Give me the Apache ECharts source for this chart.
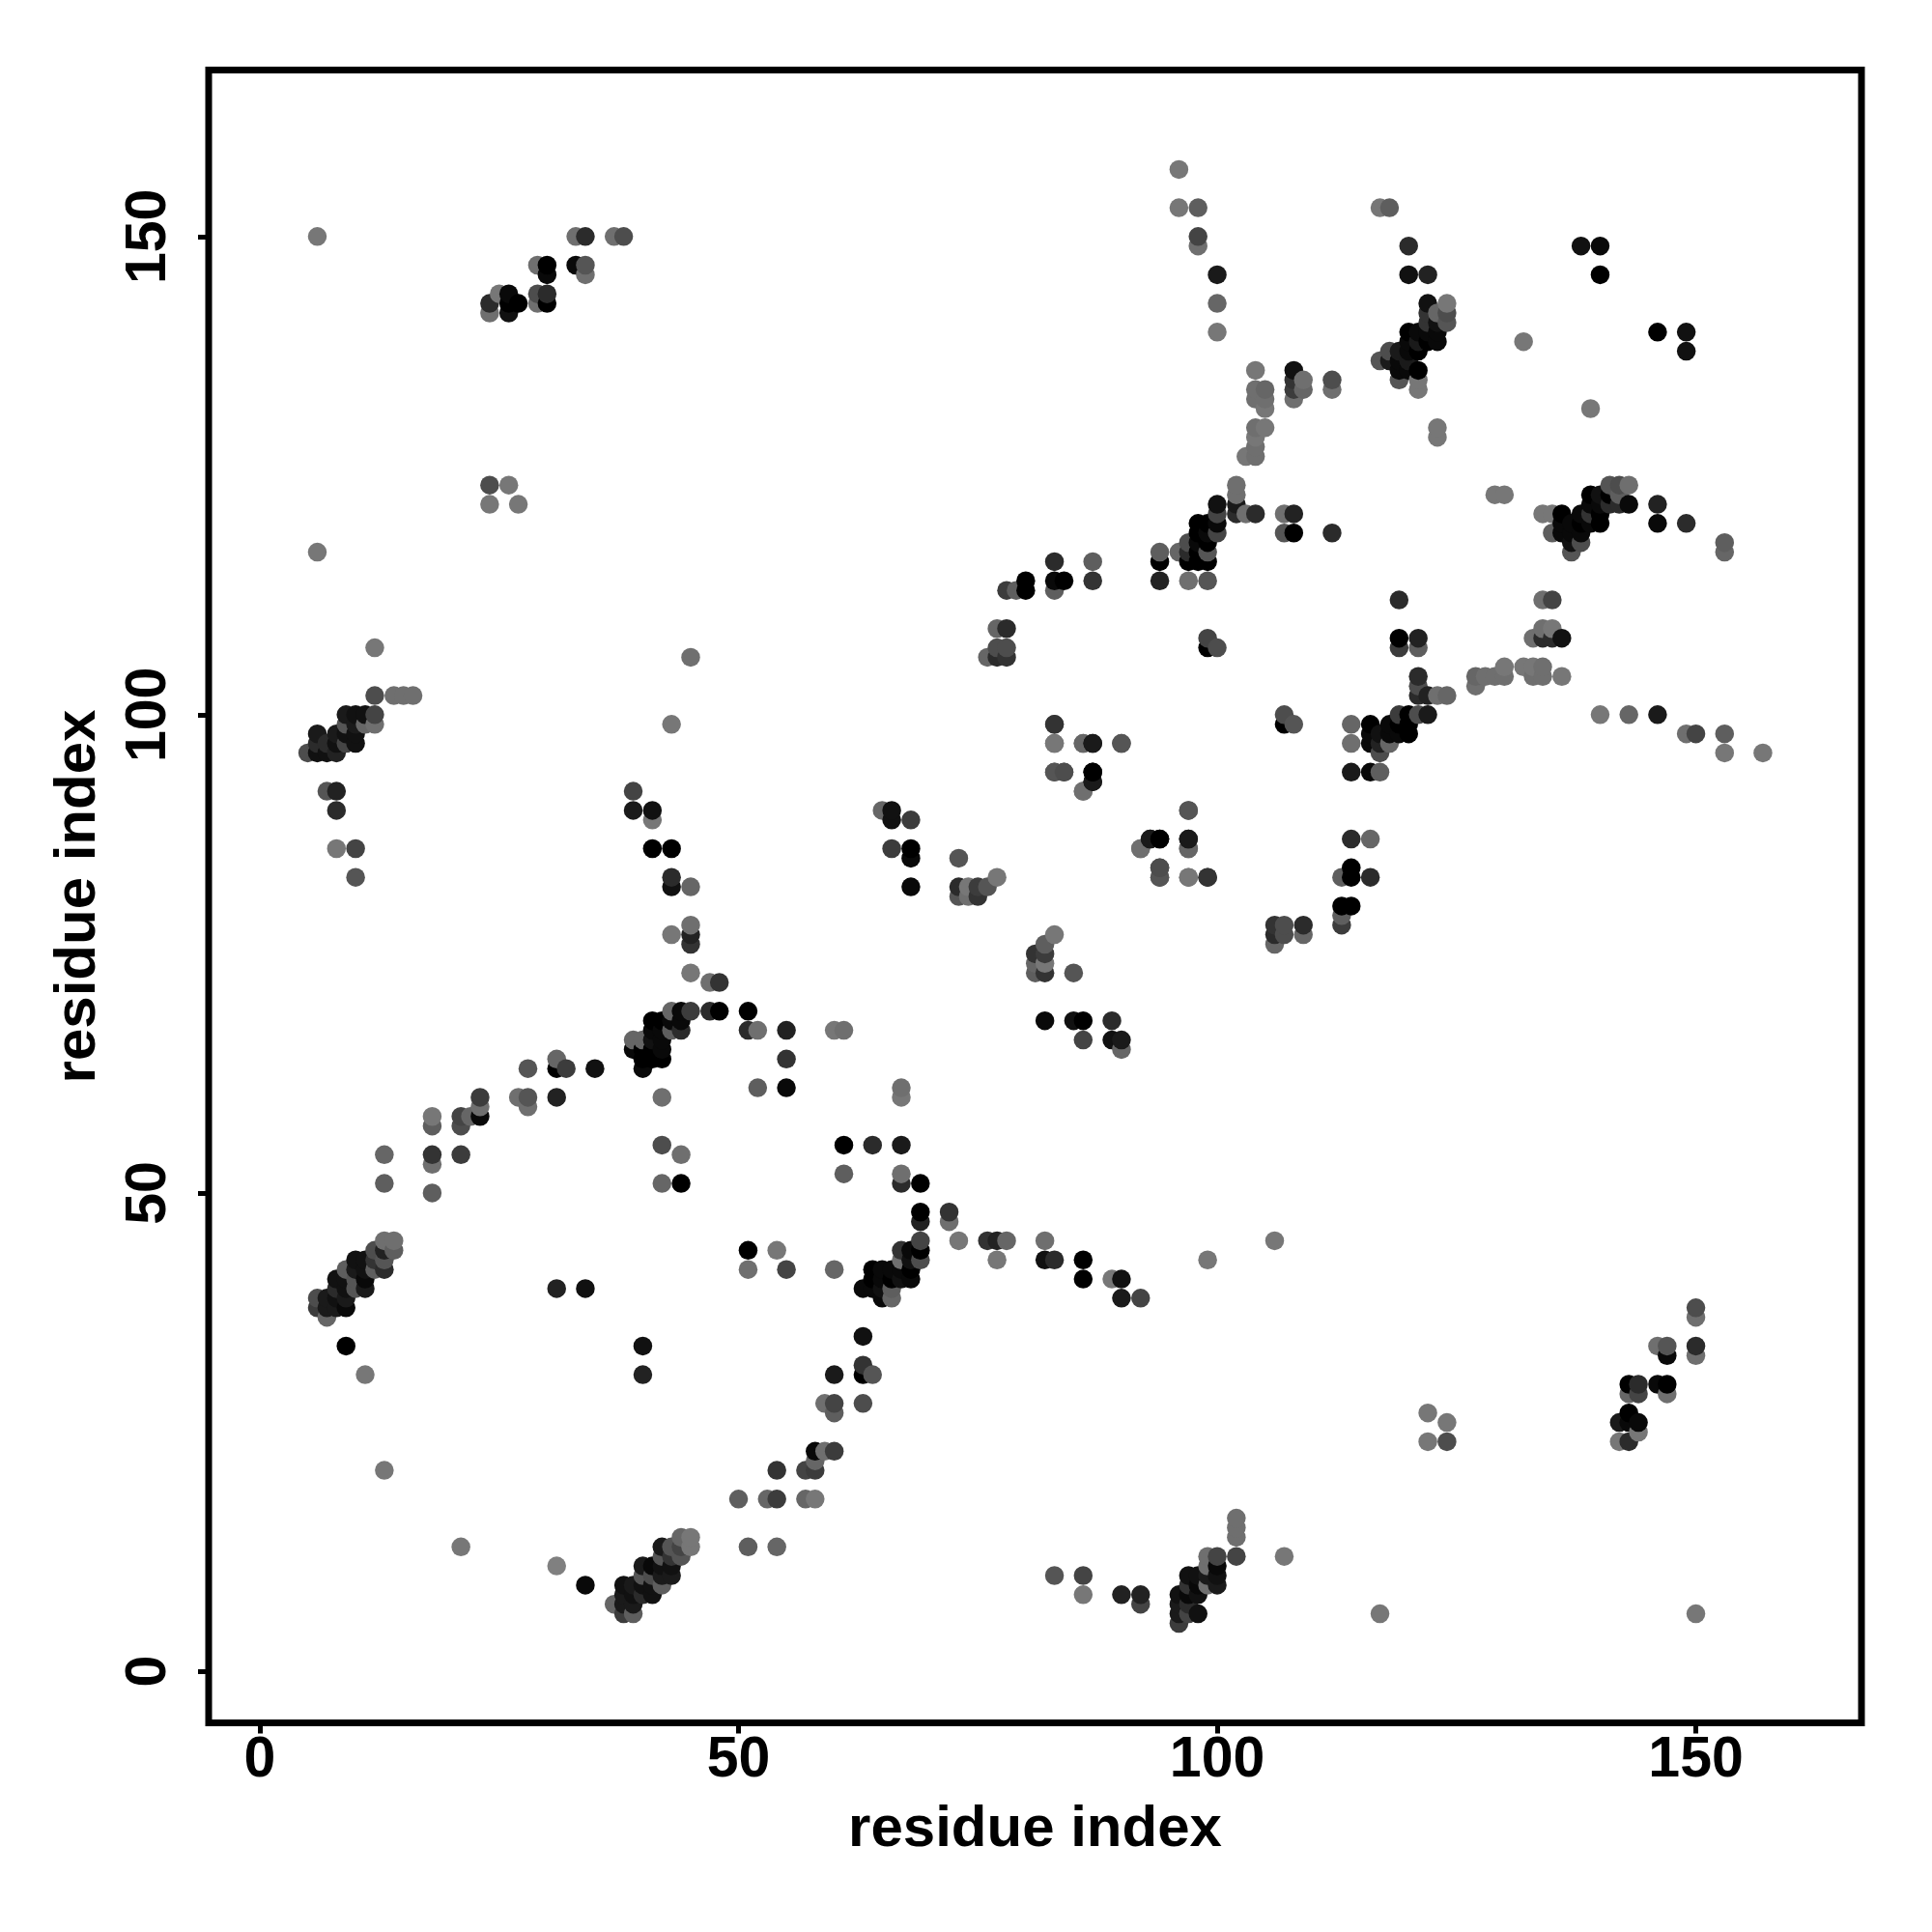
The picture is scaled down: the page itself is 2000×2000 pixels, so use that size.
<!DOCTYPE html>
<html><head><meta charset="utf-8">
<style>html,body{margin:0;padding:0;background:#fff}#c{width:2000px;height:2000px}</style>
<script src="https://cdn.jsdelivr.net/npm/echarts@6/dist/echarts.min.js"></script>
</head><body><div id="c"></div>
<script>
const xTicks=[0,50,100,150];
const yTicks=[0,50,100,150];
const axisTitle="residue index";
// [i, j, shade]; shade 0 (black) .. 14 (lightest grey)
const upperFar=[[6,150,14],[33,150,13],[34,150,5],[37,150,13],[38,150,9],[29,147,13],[30,147,0],[30,146,1],[33,147,1],[34,147,10],[34,146,13],[25,144,14],[26,144,1],[29,144,9],[30,144,5],[24,143,5],[26,143,0],[27,143,0],[29,143,13],[30,143,0],[24,142,13],[26,142,2],[24,124,9],[26,124,14],[24,122,14],[27,122,14],[6,117,14],[12,107,14],[45,106,13]];
const upperNear=[[12,102,9],[14,102,13],[15,102,13],[16,102,13],[9,100,3],[10,100,2],[11,100,2],[12,100,8],[9,99,10],[10,99,3],[11,99,12],[12,99,13],[6,98,3],[8,98,3],[9,98,2],[10,98,2],[7,97,5],[6,97,5],[8,97,2],[9,97,8],[10,97,2],[5,96,9],[6,96,2],[7,96,2],[8,96,4],[7,92,10],[8,92,4],[8,90,5],[8,86,14],[10,86,8],[10,83,10]];
const upperMid=[[39,92,8],[39,90,3],[41,90,2],[41,89,14],[41,86,0],[43,86,0],[43,83,5],[43,82,2],[45,82,12],[43,99,14],[43,77,14],[45,78,13],[45,77,4],[45,76,6],[45,73,14],[47,72,13],[48,72,6],[43,69,12],[44,69,1],[45,69,7],[47,69,5],[48,69,0],[51,69,0],[41,68,0],[42,68,0],[43,68,1],[44,68,1],[41,67,1],[42,67,1],[43,67,11],[44,67,5],[51,67,5],[52,67,13],[39,66,12],[40,66,12],[41,66,2],[42,66,1],[39,65,1],[40,65,0],[41,65,0],[42,65,1],[40,64,0],[41,64,0],[42,64,0],[40,63,1],[28,63,10],[31,64,12],[31,63,0],[32,63,7],[35,63,2],[23,60,7],[27,60,13],[28,60,10],[28,59,13],[31,60,4],[42,60,13],[52,61,11],[23,59,13],[23,58,1],[21,58,8],[22,58,12],[21,57,9],[18,58,14],[18,57,11],[18,54,6],[21,54,7],[13,54,12],[42,55,9],[44,54,13],[13,51,11],[18,50,11],[18,53,13],[42,51,12],[44,51,0],[55,67,4],[60,67,14],[61,67,13],[55,64,6],[55,61,1]];
const upperHelix=[[13,45,13],[14,45,13],[14,44,11],[13,44,4],[12,44,9],[11,43,2],[12,43,6],[13,43,10],[10,43,2],[11,42,2],[10,42,3],[9,42,11],[13,42,5],[12,42,11],[11,41,1],[8,41,2],[9,41,2],[10,41,10],[10,40,10],[11,40,3],[9,40,2],[8,40,5],[7,39,3],[8,39,2],[9,39,3],[6,39,9],[6,38,7],[7,38,3],[8,38,3],[9,38,1],[7,37,12],[9,34,0],[11,31,14],[31,40,4],[34,40,2],[13,21,14]];
const upperCentre=[[65,90,12],[66,90,2],[66,89,2],[68,89,7],[66,86,7],[68,86,0],[68,85,1],[68,82,1],[73,85,10],[73,82,5],[73,81,10],[74,82,14],[74,81,13],[75,82,7],[75,81,6],[76,82,10],[77,83,14],[92,86,13],[93,87,3],[94,87,0],[97,90,10],[97,87,3],[97,86,12],[94,84,9],[94,83,10],[97,83,14],[99,83,6],[83,99,7],[83,97,13],[86,97,13],[87,97,2],[90,97,10],[83,94,12],[84,94,11],[87,94,0],[87,93,3],[86,92,13],[76,106,12],[77,106,5],[78,106,6],[77,107,9],[78,107,9],[77,109,12],[78,109,5],[78,113,7],[79,113,11],[80,113,0],[80,114,0],[83,113,11],[83,114,1],[84,114,0],[83,116,5],[87,114,6],[87,116,11]];
const upperBend=[[96,157,14],[96,153,14],[98,153,11],[98,150,8],[98,149,13],[100,146,3],[100,143,12],[100,140,14],[104,136,14],[104,134,13],[105,134,12],[104,133,13],[105,133,13],[105,132,14],[104,130,13],[105,130,14],[104,129,14],[104,128,13],[103,127,14],[104,127,13],[102,124,13],[102,123,13],[102,122,3],[102,121,5],[103,121,13],[104,121,5],[100,122,2],[100,121,8],[100,120,1],[100,119,8],[98,120,0],[99,120,0],[98,119,0],[99,119,1],[97,118,9],[98,118,1],[99,118,0],[96,117,12],[97,117,5],[98,117,0],[99,117,10],[94,117,11],[94,116,0],[97,116,0],[98,116,0],[99,116,0],[94,114,4],[97,114,13],[99,114,10],[99,108,8],[99,107,0],[100,107,9],[108,136,2],[108,135,6],[109,135,13],[108,134,7],[109,134,12],[108,133,13],[112,135,9],[112,134,13],[107,121,13],[108,121,4],[107,119,10],[108,119,0],[112,119,5]];
const upperEnd=[[117,153,14],[118,153,11],[120,149,5],[120,146,2],[122,146,4],[138,149,2],[140,149,1],[140,146,0],[132,139,14],[123,130,14],[123,129,14],[122,143,2],[124,143,14],[124,142,9],[123,142,12],[122,142,6],[124,141,10],[123,141,2],[122,141,6],[120,140,0],[121,140,1],[122,140,1],[123,140,1],[120,139,1],[121,139,3],[122,139,0],[123,139,1],[118,138,9],[119,138,3],[120,138,1],[121,138,0],[117,137,10],[118,137,3],[119,137,1],[120,137,3],[119,136,1],[120,136,1],[121,136,0],[119,135,10],[121,135,14],[121,134,14]];

const lowerFar=[[150,6,14],[150,33,13],[150,34,5],[150,37,13],[150,38,9],[147,29,13],[147,30,0],[146,30,1],[147,33,1],[147,34,10],[146,34,13],[144,25,14],[144,26,1],[144,29,8],[144,30,5],[143,24,5],[143,26,1],[143,27,0],[143,29,12],[143,30,0],[142,24,14],[142,26,3],[124,24,9],[124,26,14],[122,24,14],[122,27,14],[117,6,14],[107,12,14],[106,45,14]];
const lowerNear=[[102,12,8],[102,14,13],[102,15,13],[102,16,13],[100,9,3],[100,10,2],[100,11,1],[100,12,8],[99,9,13],[99,10,3],[99,11,13],[99,12,13],[98,6,2],[98,8,2],[98,9,1],[98,10,2],[97,7,5],[97,6,8],[97,8,1],[97,9,6],[97,10,2],[96,5,7],[96,6,3],[96,7,3],[96,8,2],[92,7,8],[92,8,4],[90,8,4],[86,8,14],[86,10,8],[83,10,10]];
const lowerMid=[[92,39,8],[90,39,3],[90,41,2],[89,41,14],[86,41,0],[86,43,0],[83,43,5],[82,43,2],[82,45,13],[99,43,14],[77,43,14],[78,45,12],[77,45,4],[76,45,6],[73,45,14],[72,47,13],[72,48,6],[69,43,9],[69,44,0],[69,45,8],[69,47,4],[69,48,0],[69,51,0],[68,41,1],[68,42,0],[68,43,2],[68,44,1],[67,41,2],[67,42,1],[67,43,13],[67,44,6],[67,51,5],[67,52,13],[66,39,12],[66,40,11],[66,41,0],[66,42,1],[65,39,1],[65,40,2],[65,41,1],[65,42,1],[64,40,1],[64,41,0],[64,42,0],[63,40,1],[63,28,9],[64,31,10],[63,31,0],[63,32,6],[63,35,2],[60,23,7],[60,27,11],[60,28,8],[59,28,13],[60,31,3],[60,42,12],[61,52,11],[59,23,13],[58,23,1],[58,21,7],[58,22,12],[57,21,8],[58,18,14],[57,18,12],[54,18,7],[54,21,6],[54,13,12],[55,42,8],[54,44,14],[51,13,11],[50,18,11],[53,18,12],[51,42,13],[51,44,0],[67,55,3],[67,60,14],[67,61,13],[64,55,5],[61,55,0]];
const lowerHelix=[[45,13,14],[45,14,14],[44,14,12],[44,13,8],[44,12,10],[43,11,2],[43,12,6],[43,13,10],[43,10,3],[42,11,2],[42,10,3],[42,9,11],[42,13,3],[42,12,10],[41,11,1],[41,8,2],[41,9,2],[41,10,9],[40,10,10],[40,11,3],[40,9,2],[40,8,5],[39,7,3],[39,8,2],[39,9,3],[39,6,11],[38,6,7],[38,7,3],[38,8,3],[38,9,2],[37,7,12],[34,9,1],[31,11,15],[40,31,4],[40,34,2],[21,13,14]];
const lowerCentre=[[90,65,12],[90,66,3],[89,66,2],[89,68,5],[86,66,8],[86,68,0],[85,68,2],[82,68,1],[85,73,10],[82,73,6],[81,73,11],[82,74,14],[81,74,12],[82,75,7],[81,75,6],[82,76,11],[83,77,14],[86,92,13],[87,93,3],[87,94,0],[90,97,10],[87,97,3],[86,97,12],[84,94,9],[83,94,10],[83,97,14],[83,99,6],[99,83,6],[97,83,14],[97,86,12],[97,87,3],[97,90,10],[94,83,10],[94,84,9],[94,87,0],[93,87,3],[92,86,13],[106,76,12],[106,77,5],[106,78,6],[107,77,9],[107,78,9],[109,77,12],[109,78,5],[113,78,7],[113,79,11],[113,80,0],[114,80,0],[113,83,11],[114,83,0],[114,84,0],[116,83,5],[114,87,5],[116,87,12]];
const lowerBend=[[157,96,14],[153,96,14],[153,98,11],[150,98,8],[149,98,13],[146,100,3],[143,100,12],[140,100,14],[136,104,14],[134,104,13],[134,105,13],[133,104,13],[133,105,14],[132,105,14],[130,104,13],[130,105,14],[129,104,13],[128,104,13],[127,103,13],[127,104,12],[124,102,12],[123,102,13],[122,102,4],[121,102,5],[121,103,9],[121,104,5],[122,100,3],[121,100,9],[120,100,0],[119,100,7],[120,98,0],[120,99,0],[119,98,1],[119,99,0],[118,97,12],[118,98,1],[118,99,1],[117,96,9],[117,97,4],[117,98,2],[116,99,0],[117,94,11],[116,94,1],[116,97,1],[116,98,1],[114,99,12],[114,94,3],[114,97,13],[108,99,10],[107,99,0],[107,100,9],[136,108,2],[135,108,5],[135,109,14],[134,108,5],[134,109,13],[133,108,13],[135,112,8],[134,112,13],[121,107,11],[121,108,4],[119,107,7],[119,108,0],[119,112,5]];
const lowerEnd=[[153,117,12],[153,118,11],[149,120,5],[146,120,1],[146,122,4],[149,138,2],[149,140,2],[146,140,0],[139,132,14],[130,123,14],[129,123,14],[143,122,1],[143,124,13],[142,124,9],[142,123,11],[142,122,5],[141,124,10],[141,123,0],[141,122,5],[140,120,0],[140,121,0],[140,122,1],[140,123,2],[139,120,1],[139,121,6],[139,122,1],[139,123,0],[138,118,9],[138,119,1],[138,120,0],[138,121,1],[137,117,10],[137,118,2],[137,119,1],[137,120,1],[136,119,1],[136,120,1],[136,121,0],[135,119,11],[135,121,14],[134,121,14]];

const points=[].concat(upperFar,upperNear,upperMid,upperHelix,upperCentre,upperBend,upperEnd,
  lowerFar,lowerNear,lowerMid,lowerHelix,lowerCentre,lowerBend,lowerEnd);
points.sort((a,b)=>a[0]-b[0]||a[1]-b[1]);

const font='"Liberation Sans",Arial,Helvetica,sans-serif';
const chart=echarts.init(document.getElementById('c'),null,{renderer:'canvas'});
chart.setOption({
  animation:false,backgroundColor:'#fff',
  grid:{left:216,top:72.5,width:1711,height:1711,show:true,borderColor:'#000',borderWidth:7,backgroundColor:'transparent'},
  xAxis:{type:'value',min:-5.35,max:167.3,name:axisTitle,nameLocation:'middle',nameGap:81,
    nameTextStyle:{fontFamily:font,fontWeight:'bold',fontSize:60,color:'#000'},
    axisLine:{show:false,onZero:false},splitLine:{show:false},
    axisTick:{show:true,length:11,lineStyle:{color:'#000',width:5},customValues:xTicks},
    axisLabel:{show:true,margin:10,fontFamily:font,fontWeight:'bold',fontSize:59,color:'#000',customValues:xTicks,formatter:v=>String(v)}},
  yAxis:{type:'value',min:-5.4,max:167.4,name:axisTitle,nameLocation:'middle',nameGap:105,
    nameTextStyle:{fontFamily:font,fontWeight:'bold',fontSize:60,color:'#000'},
    axisLine:{show:false,onZero:false},splitLine:{show:false},
    axisTick:{show:true,length:11,lineStyle:{color:'#000',width:5},customValues:yTicks},
    axisLabel:{show:true,rotate:90,margin:32,fontFamily:font,fontWeight:'bold',fontSize:59,color:'#000',customValues:yTicks,formatter:v=>String(v)}},
  series:[{type:'scatter',data:points,symbol:'circle',symbolSize:19.5,silent:true,
    encode:{x:0,y:1},
    itemStyle:{opacity:1,color:p=>{const g=Math.round(p.value[2]*8.5);return `rgb(${g},${g},${g})`;}}}]
});
</script></body></html>
